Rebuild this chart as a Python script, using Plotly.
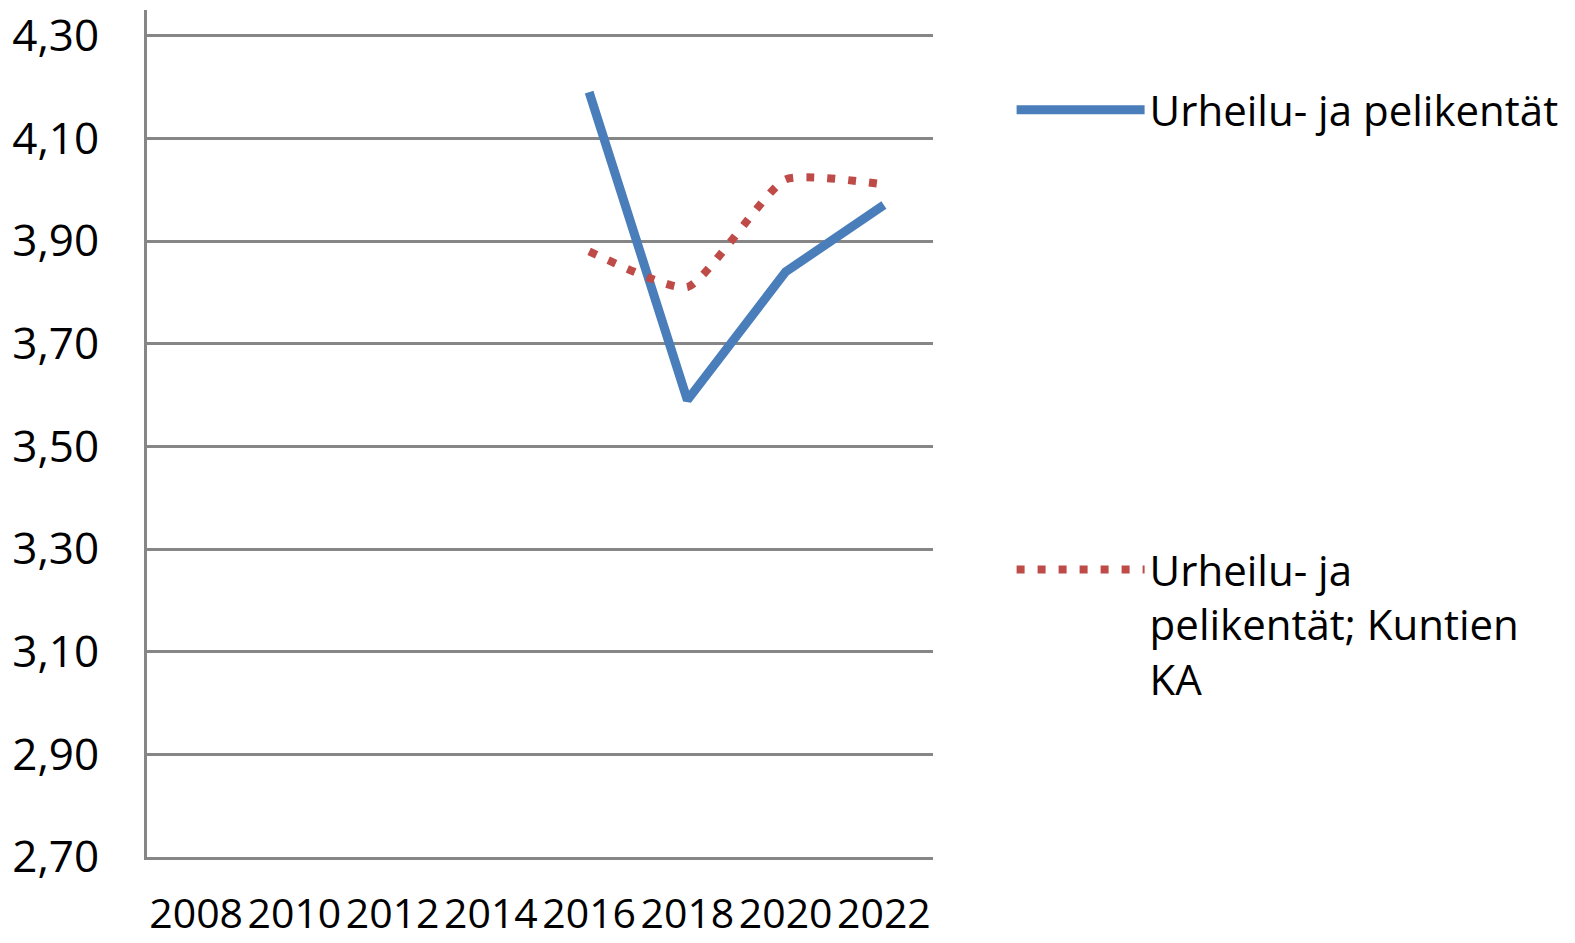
import plotly.graph_objects as go

years = ["2008", "2010", "2012", "2014", "2016", "2018", "2020", "2022"]
urheilu = [None, None, None, None, 4.19, 3.59, 3.84, 3.97]
kuntien_ka = [None, None, None, None, 3.88, 3.81, 4.02, 4.01]
y_ticks = [2.70, 2.90, 3.10, 3.30, 3.50, 3.70, 3.90, 4.10, 4.30]

FONT = "Open Sans"

fig = go.Figure()
fig.add_trace(go.Scatter(
    x=years, y=urheilu, mode="lines", name="Urheilu- ja pelikentät",
    line=dict(color="#4A7EBB", width=9), legendgroup="a", connectgaps=False,
))
fig.add_trace(go.Scatter(
    x=years, y=kuntien_ka, mode="lines", name="Urheilu- ja<br>pelikentät; Kuntien<br>KA",
    line=dict(color="#BE4B48", width=8, dash="8px,13px", shape="spline", smoothing=0.5),
    legendgroup="b",
))

fig.update_layout(
    width=1575, height=943,
    margin=dict(l=147, r=642, t=10, b=86),
    plot_bgcolor="white", paper_bgcolor="white",
    separators=", ",
    font=dict(family=FONT, size=44, color="black"),
    showlegend=True,
    legend=dict(
        x=1.10, y=0.922, xanchor="left", yanchor="top", valign="top",
        font=dict(family=FONT, size=42, color="black"),
        itemwidth=128, tracegroupgap=402, bgcolor="rgba(0,0,0,0)",
    ),
)
fig.update_xaxes(
    type="category", categoryorder="array", categoryarray=years,
    showgrid=False, showline=True, linecolor="#868686", linewidth=3,
    ticks="", tickfont=dict(family=FONT, size=41), ticklabelstandoff=19,
    tickangle=0, range=[-0.5, 7.5], automargin=False,
)
fig.update_yaxes(
    range=[2.70, 4.35], tickmode="array", tickvals=y_ticks,
    tickformat=".2f", showgrid=True, gridcolor="#868686", gridwidth=3,
    showline=True, linecolor="#868686", linewidth=3, zeroline=False,
    ticks="", tickfont=dict(family=FONT, size=44), ticklabelstandoff=36,
    automargin=False,
)
fig.write_html("out.html", config={"displayModeBar": False})

with open("out.html", "r", encoding="utf-8") as f:
    html = f.read()
html = html.replace("<head>", "<head><style>html,body{margin:0;padding:0;overflow:hidden;}</style>", 1)
with open("out.html", "w", encoding="utf-8") as f:
    f.write(html)
